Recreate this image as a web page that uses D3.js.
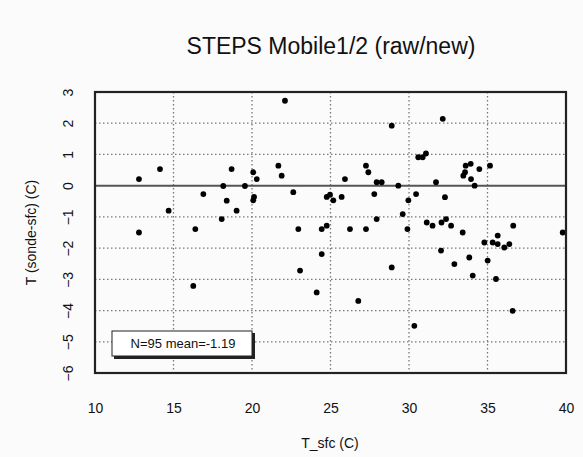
<!DOCTYPE html>
<html>
<head>
<meta charset="utf-8">
<script src="https://cdn.jsdelivr.net/npm/d3@7"></script>
<style>
  body { margin: 0; background: #fbfbfb; }
  text { font-family: "Liberation Sans", Arial, sans-serif; fill: #111; }
</style>
</head>
<body>
<div id="chart"></div>
<script>
// surface temperature (C)
var tSfc = [
  12.8, 14.14, 14.69, 16.9, 18.17, 18.7, 18.39, 19.55, 19.02, 18.07,
  16.39, 12.8, 16.26, 22.1, 28.9, 20.08, 20.3, 21.68, 21.89, 22.63,
  20.13, 20.08, 24.97, 24.76, 25.18, 25.71, 25.92, 27.26, 27.41, 27.94,
  28.26, 27.79, 29.32, 29.96, 27.94, 29.6, 32.15, 30.59, 30.87, 31.08,
  33.61, 33.93, 33.46, 33.57, 33.95, 34.18, 34.48, 35.16, 31.72, 30.45,
  32.29, 31.13, 31.5, 32.07, 32.36, 32.68, 29.9, 36.64, 33.42, 39.79,
  32.04, 32.89, 33.84, 34.06, 35.01, 35.54, 34.8, 35.33, 35.65, 35.65,
  36.07, 36.39, 36.6, 30.34, 22.95, 24.44, 24.76, 26.24, 27.26, 24.44,
  23.06, 28.9, 24.12, 26.77
];
// sonde minus surface (C)
var tDiff = [
  0.21, 0.53, -0.8, -0.27, -0.01, 0.53, -0.48, -0.01, -0.8, -1.07,
  -1.39, -1.5, -3.21, 2.72, 1.92, 0.43, 0.21, 0.64, 0.32, -0.21,
  -0.36, -0.47, -0.29, -0.36, -0.47, -0.36, 0.21, 0.64, 0.43, 0.11,
  0.11, -0.27, 0, -0.47, -1.07, -0.91, 2.14, 0.91, 0.91, 1.03,
  0.64, 0.7, 0.32, 0.43, 0.21, 0, 0.53, 0.64, 0.11, -0.27,
  -0.37, -1.18, -1.28, -1.18, -1.07, -1.28, -1.39, -1.28, -1.5, -1.5,
  -2.08, -2.51, -2.3, -2.88, -2.4, -2.99, -1.82, -1.82, -1.87, -1.6,
  -1.98, -1.87, -4.01, -4.49, -1.39, -1.39, -1.28, -1.39, -1.39, -2.19,
  -2.72, -2.62, -3.42, -3.69
];
var xTicks = [10, 15, 20, 25, 30, 35, 40];
var yTicks = [-6, -5, -4, -3, -2, -1, 0, 1, 2, 3];
var title = "STEPS Mobile1/2 (raw/new)";
var xTitle = "T_sfc (C)";
var yTitle = "T (sonde-sfc) (C)";
var statsLabel = "N=95 mean=-1.19";

var width = 583, height = 457;
var pLeft = 95, pRight = 566, pTop = 92, pBottom = 373;

var svg = d3.select("#chart").append("svg")
  .attr("width", width)
  .attr("height", height);

svg.append("rect")
  .attr("width", width)
  .attr("height", height)
  .attr("fill", "#fbfbfb");

var x = d3.scaleLinear().domain([10, 40]).range([pLeft, pRight]);
var y = d3.scaleLinear().domain([-6, 3]).range([pBottom, pTop]);

// dotted grid
svg.append("g")
  .selectAll("line")
  .data(xTicks.slice(1, -1))
  .enter().append("line")
  .attr("x1", d => x(d)).attr("x2", d => x(d))
  .attr("y1", pTop).attr("y2", pBottom)
  .attr("stroke", "#777")
  .attr("stroke-width", 1.3)
  .attr("stroke-dasharray", "1.5,2.5");

svg.append("g")
  .selectAll("line")
  .data(yTicks.filter(d => d != 0 && d != -6 && d != 3))
  .enter().append("line")
  .attr("x1", pLeft).attr("x2", pRight)
  .attr("y1", d => y(d)).attr("y2", d => y(d))
  .attr("stroke", "#777")
  .attr("stroke-width", 1.3)
  .attr("stroke-dasharray", "1.5,2.5");

// zero line
svg.append("line")
  .attr("x1", pLeft).attr("x2", pRight)
  .attr("y1", y(0)).attr("y2", y(0))
  .attr("stroke", "#555")
  .attr("stroke-width", 2);

// points
svg.append("g")
  .selectAll("circle")
  .data(tSfc)
  .enter().append("circle")
  .attr("cx", d => x(d))
  .attr("cy", (d, i) => y(tDiff[i]))
  .attr("r", 2.9)
  .attr("fill", "#000");

// frame
svg.append("rect")
  .attr("x", pLeft).attr("y", pTop)
  .attr("width", pRight - pLeft).attr("height", pBottom - pTop)
  .attr("fill", "none")
  .attr("stroke", "#222")
  .attr("stroke-width", 2.2);

// axes (labels only)
var xAxis = svg.append("g")
  .attr("transform", "translate(0," + pBottom + ")")
  .call(d3.axisBottom(x).tickValues(xTicks).tickSize(0).tickPadding(30).tickFormat(d3.format("d")));
xAxis.select(".domain").remove();
xAxis.selectAll("text").style("font-size", "14px").attr("font-family", null);

var yAxis = svg.append("g")
  .attr("transform", "translate(" + pLeft + ",0)")
  .call(d3.axisLeft(y).tickValues(yTicks).tickSize(0).tickFormat(d3.format("d")));
yAxis.select(".domain").remove();
yAxis.selectAll("text")
  .style("font-size", "14px")
  .attr("font-family", null)
  .attr("x", null).attr("dy", null)
  .attr("text-anchor", "middle")
  .attr("transform", "translate(-22,0) rotate(-90)");

// titles
svg.append("text")
  .attr("x", 331).attr("y", 54)
  .attr("text-anchor", "middle")
  .style("font-size", "23px")
  .text(title);

svg.append("text")
  .attr("x", 330).attr("y", 448)
  .attr("text-anchor", "middle")
  .style("font-size", "14px")
  .text(xTitle);

svg.append("text")
  .attr("transform", "translate(36," + ((pTop + pBottom) / 2) + ") rotate(-90)")
  .attr("text-anchor", "middle")
  .style("font-size", "14px")
  .text(yTitle);

// stats box
svg.append("rect")
  .attr("x", 114).attr("y", 333)
  .attr("width", 141).attr("height", 26)
  .attr("fill", "#222");
svg.append("rect")
  .attr("x", 112).attr("y", 331)
  .attr("width", 140).attr("height", 25)
  .attr("fill", "#fff")
  .attr("stroke", "#222")
  .attr("stroke-width", 1);
svg.append("text")
  .attr("x", 183).attr("y", 348)
  .attr("text-anchor", "middle")
  .style("font-size", "13px")
  .text(statsLabel);
</script>
</body>
</html>
